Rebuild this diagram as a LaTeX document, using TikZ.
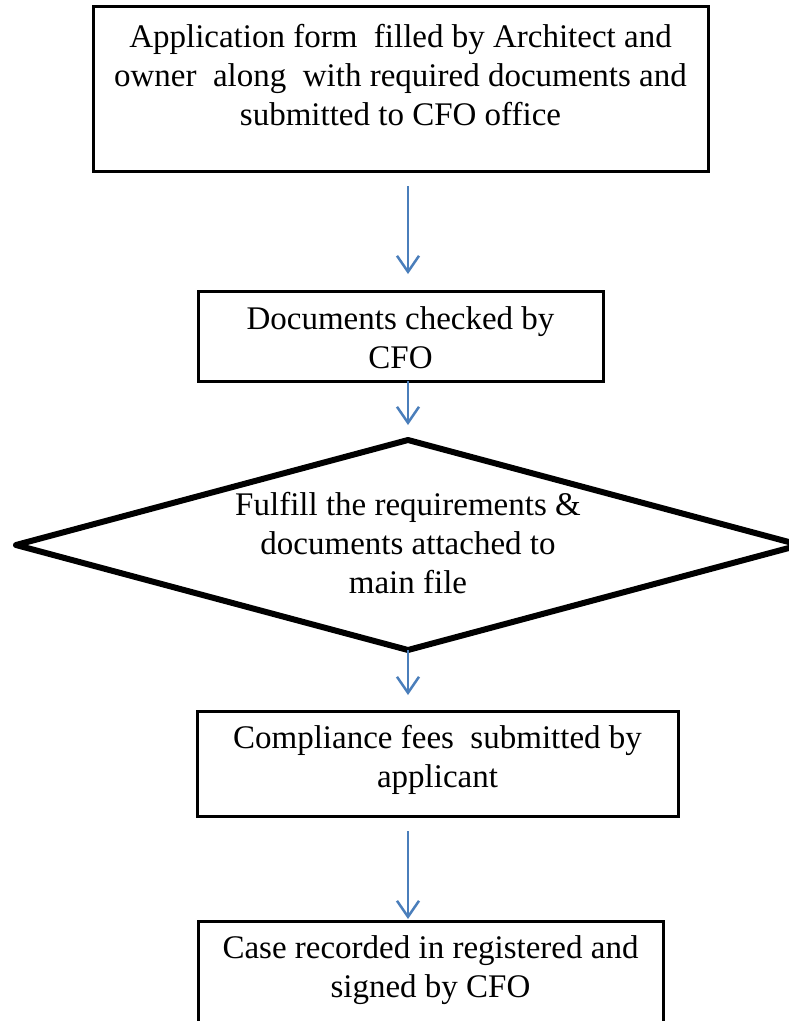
\documentclass[tikz,border=0pt]{standalone}
\usepackage{fontspec}
\setmainfont{Liberation Serif}
\usetikzlibrary{shapes.geometric,arrows.meta}
\definecolor{arrowblue}{RGB}{74,126,187}
\begin{document}
\begin{tikzpicture}[x=1pt,y=-1pt,
  box/.style={draw=black, line width=3pt, rectangle, inner sep=0pt, outer sep=0pt, align=center, font=\fontsize{33}{39}\selectfont},
  txt/.style={inner sep=0pt, outer sep=0pt, align=center, font=\fontsize{33}{39}\selectfont},
  decision/.style={draw=black, line width=6pt, line join=round, diamond, inner sep=0pt, outer sep=0pt, minimum width=784pt, minimum height=210pt},
  flow/.style={draw=arrowblue, line width=2.5pt, -{Straight Barb[length=16pt,width=22pt]}}]
\useasboundingbox (0,0) rectangle (789,1021);
\fill[white] (0,0) rectangle (789,1021);
% boxes
\node[box, minimum width=615pt, minimum height=165pt] (b1) at (400.5,88.5) {};
\node[txt, anchor=base] (t1) at (400.5,125) {Application form\ \ filled by Architect and\\owner\ \ along\ \ with required documents and\\submitted to CFO office};
\node[box, minimum width=405pt, minimum height=90pt] (b2) at (400.5,336) {};
\node[txt, anchor=base] (t2) at (400.5,368) {Documents checked by\\CFO};
\node[decision] (d) at (408,545) {};
\node[txt, anchor=base] (td) at (408,593) {Fulfill the requirements \&\\documents attached to\\main file};
\node[box, minimum width=481pt, minimum height=105pt] (b3) at (437.5,763.5) {};
\node[txt, anchor=base] (t3) at (437.5,787) {Compliance fees\ \ submitted by\\applicant};
\node[box, minimum width=465pt, minimum height=119pt] (b4) at (430.5,980.5) {};
\node[txt, anchor=base] (t4) at (430.5,997) {Case recorded in registered and\\signed by CFO};
% connectors
\draw[flow, shorten <=15pt, shorten >=17pt] (b1.south -| d.center) -- (b2.north -| d.center);
\draw[flow, shorten >=15pt] (b2.south -| d.center) -- (d.north);
\draw[flow, shorten >=16pt] (d.south) -- (b3.north -| d.center);
\draw[flow, shorten <=15pt, shorten >=2pt] (b3.south -| d.center) -- (b4.north -| d.center);
\end{tikzpicture}
\end{document}
